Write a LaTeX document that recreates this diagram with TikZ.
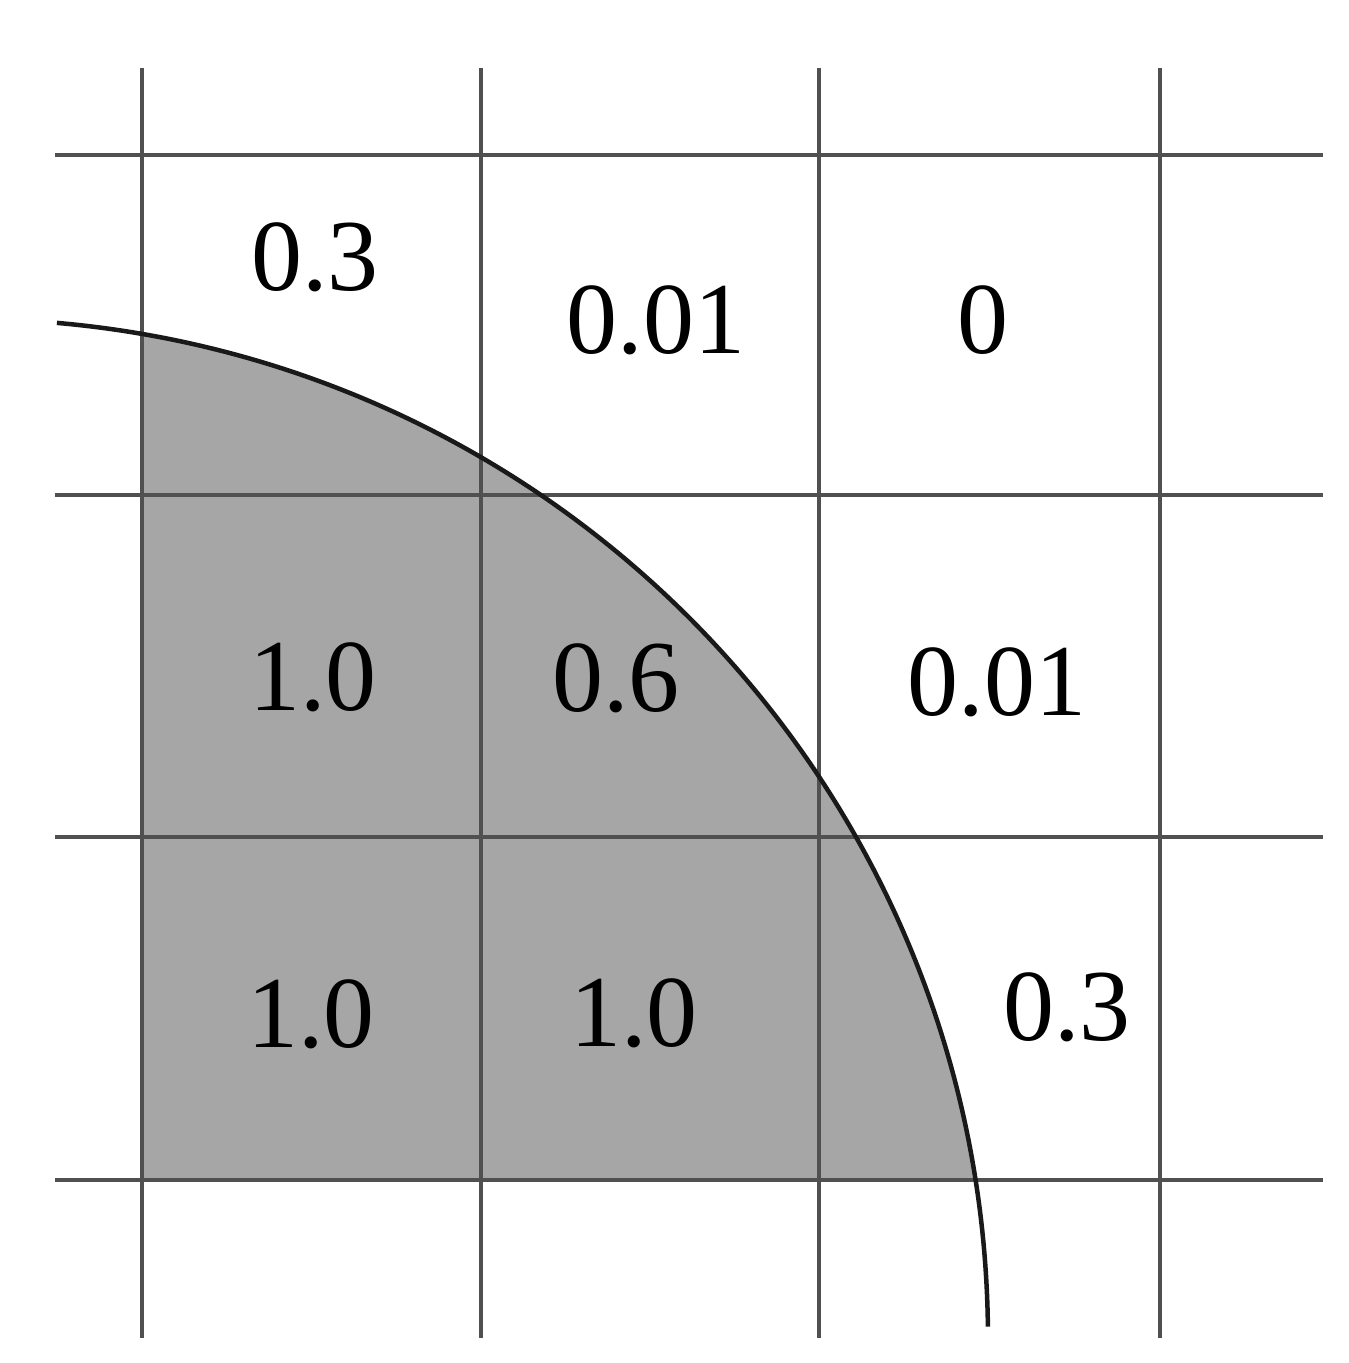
\documentclass[tikz,border=0pt]{standalone}
\usepackage{fontspec}
\setmainfont{Liberation Serif}
\definecolor{fillgray}{RGB}{166,166,166}
\definecolor{linegray}{RGB}{80,80,80}
\tikzset{
  gridline/.style={draw=linegray, line width=4pt},
  curveline/.style={draw=black!90, line width=4.5pt},
  lbl/.style={inner sep=0pt, font=\fontsize{102}{110}\selectfont}
}
\begin{document}
\begin{tikzpicture}[x=1pt,y=1pt]
\useasboundingbox (0,0) rectangle (1349,1363);
\fill[white] (0,0) rectangle (1349,1363);
\coordinate (ctr) at (-32,24);
\begin{scope}
  \clip (142,183) rectangle (1349,1363);
  \fill[fillgray] (ctr) circle (1020);
\end{scope}
% vertical lines
\foreach \x in {142,481,819,1160} {
  \draw[gridline] (\x,25) -- (\x,1295);
}
% horizontal lines
\foreach \y in {1208,868,526,183} {
  \draw[gridline] (55,\y) -- (1323,\y);
}
% circle arc
\draw[curveline] (ctr) ++(85:1020) arc[start angle=85, end angle=0.7, radius=1020];
% labels
\node[lbl] (t1) at (315,1106) {0.3};
\node[lbl] (t2) at (656,1043) {0.01};
\node[lbl] (t3) at (983,1043) {0};
\node[lbl] (m1) at (313,686) {1.0};
\node[lbl] (m2) at (616,685) {0.6};
\node[lbl] (m3) at (997,681) {0.01};
\node[lbl] (b1) at (311,349) {1.0};
\node[lbl] (b2) at (634,350) {1.0};
\node[lbl] (b3) at (1067,356) {0.3};
\end{tikzpicture}
\end{document}
